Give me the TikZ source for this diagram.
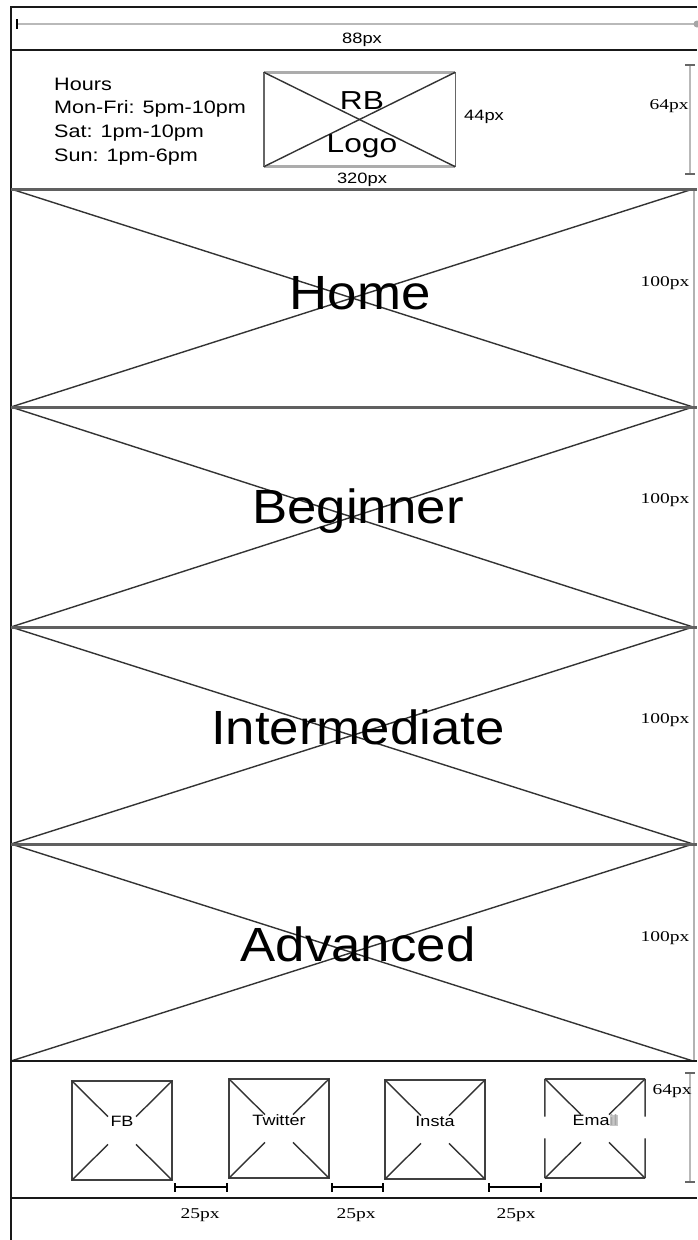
\documentclass[tikz,border=0pt]{standalone}
\usepackage{fontspec}
\setmainfont{Liberation Serif}
\newfontfamily\arialf{Liberation Sans}
\usepackage{graphicx}
\usetikzlibrary{calc}
\newcommand\sxs[2]{\scalebox{#1}[1]{#2}}
\begin{document}
\begin{tikzpicture}[x=1pt,y=-1pt,
  blk/.style={line width=1.8pt, black!90},
  sepline/.style={line width=3pt, gray!75!black},
  diag/.style={line width=1.4pt, black!80},
  dimg/.style={line width=2.6pt, gray!55},
  dimtick/.style={line width=1.2pt, gray!80!black},
  boxedge/.style={line width=1.5pt, black!75},
  sanslbl/.style={inner sep=0pt, font=\arialf\fontsize{15}{15}\selectfont},
  serlbl/.style={inner sep=0pt, font=\fontsize{15}{15}\selectfont},
  hdr/.style={inner sep=0pt, anchor=base west, font=\arialf\fontsize{18}{18}\selectfont},
  big/.style={inner sep=0pt, font=\arialf\fontsize{48}{48}\selectfont},
  logotxt/.style={inner sep=0pt, font=\arialf\fontsize{26}{26}\selectfont},
  iconbox/.style={minimum width=100, minimum height=99, inner sep=0pt}]
\useasboundingbox (0,0) rectangle (697,1240);
\fill[white] (0,0) rectangle (697,1240);

% outer frame
\coordinate (ftr) at (697,7);
\coordinate (fbl) at (11,1240);
\draw[blk] (ftr) -| (fbl);

% top dimension 88px
\coordinate (d88a) at (17,24);
\coordinate (d88b) at (697,24);
\draw[dimg] (d88a) -- (d88b);
\draw[line width=1.2pt] (17,19) -- (17,29);
\fill[gray!70] (d88b) circle (3.5);
\node[sanslbl] (l88) at (362,40) {\sxs{1.22}{88px}};

% header line
\coordinate (h1a) at (11,50); \coordinate (h1b) at (697,50);
\draw[blk] (h1a) -- (h1b);

% hours
\node[hdr] (hrs1) at (54,90) {\sxs{1.2}{Hours}};
\node[hdr] (hrs2) at (54,113) {\sxs{1.2}{Mon-Fri: 5pm-10pm}};
\node[hdr] (hrs3) at (54,137) {\sxs{1.2}{Sat: 1pm-10pm}};
\node[hdr] (hrs4) at (54,161) {\sxs{1.2}{Sun: 1pm-6pm}};

% logo box
\node[minimum width=191, minimum height=94, inner sep=0pt] (logo) at (359.5,119.5) {};
\draw[line width=1.4pt, gray!80!black] (logo.north west) -- (logo.south west) (logo.north east) -- (logo.south east);
\draw[line width=2.8pt, gray!65] (logo.north west) -- (logo.north east) (logo.south west) -- (logo.south east);
\draw[diag] (logo.north west) -- (logo.south east);
\draw[diag] (logo.south west) -- (logo.north east);
\node[logotxt] (rb) at (362,101) {\sxs{1.22}{RB}};
\node[logotxt] (lg) at (362,146) {\sxs{1.22}{Logo}};
\node[sanslbl] (l44) at (484,117) {\sxs{1.22}{44px}};
\node[sanslbl] (l320) at (362,180) {\sxs{1.22}{320px}};

% 64px header dimension
\coordinate (v1a) at (690,65); \coordinate (v1b) at (690,174);
\draw[dimg] (v1a) -- (v1b);
\draw[dimtick] (685,65) -- (695,65) (685,174) -- (695,174);
\node[serlbl] (l64a) at (669,106) {\sxs{1.3}{64px}};

% sections
\foreach \ya/\yb/\name/\lx/\ly/\dy in {189/407/Home/360/293/283, 407/627/Beginner/358/511/500, 627/844/Intermediate/358/727/720, 844/1061/Advanced/358/944/938}{
  \draw[diag] (11,\ya) -- (693,\yb);
  \draw[diag] (11,\yb) -- (693,\ya);
  \node[big] at (\lx,\ly) {\sxs{1.1}{\name}};
  \node[serlbl] at (665,\dy) {\sxs{1.3}{100px}};
}
\draw[line width=2.4pt, gray!60] (694,189) -- (694,1061);
\foreach \y in {189,407,627,844}{
  \draw[sepline] (11,\y) -- (697,\y);
}
\coordinate (s5a) at (11,1061); \coordinate (s5b) at (697,1061);
\draw[blk] (s5a) -- (s5b);

% footer icon boxes
\node[iconbox] (fb) at (122,1130.5) {};
\node[iconbox] (tw) at (279,1128.5) {};
\node[iconbox] (ins) at (435,1129.5) {};
\node[iconbox] (em) at (595,1128.5) {};
\foreach \b in {fb,tw,ins}{
  \draw[boxedge] (\b.north west) rectangle (\b.south east);
}
\draw[boxedge] (em.north west) -- (em.north east);
\draw[boxedge] (em.south west) -- (em.south east);
\draw[boxedge] (em.north west) -- ($(em.north west)!0.38!(em.south west)$);
\draw[boxedge] (em.north east) -- ($(em.north east)!0.38!(em.south east)$);
\draw[boxedge] (em.south west) -- ($(em.south west)!0.4!(em.north west)$);
\draw[boxedge] (em.south east) -- ($(em.south east)!0.4!(em.north east)$);
\foreach \b in {fb,tw,ins,em}{
  \draw[diag] (\b.north west) -- ($(\b.north west)!0.36!(\b.south east)$);
  \draw[diag] (\b.south east) -- ($(\b.south east)!0.36!(\b.north west)$);
  \draw[diag] (\b.north east) -- ($(\b.north east)!0.36!(\b.south west)$);
  \draw[diag] (\b.south west) -- ($(\b.south west)!0.36!(\b.north east)$);
}
\node[sanslbl] (tfb) at (fb.center) [yshift=9pt] {\sxs{1.2}{FB}};
\node[sanslbl] (ttw) at (tw.center) [yshift=8pt] {\sxs{1.2}{Twitter}};
\node[sanslbl] (tins) at (ins.center) [yshift=8pt] {\sxs{1.2}{Insta}};
\node[sanslbl] (tem) at (em.center) [yshift=8pt] {\sxs{1.2}{Ema{\fboxsep=0pt\colorbox{gray!45}{\textcolor{gray!70}{il}}}}};

% 25px dimensions
\coordinate (g1a) at (175,1187); \coordinate (g1b) at (227,1187);
\coordinate (g2a) at (332,1187); \coordinate (g2b) at (383,1187);
\coordinate (g3a) at (489,1187); \coordinate (g3b) at (541,1187);
\foreach \p/\q in {g1a/g1b,g2a/g2b,g3a/g3b}{
  \draw[line width=1.5pt] (\p) -- (\q);
  \draw[line width=1.2pt] ($(\p)+(0,-4)$) -- ($(\p)+(0,5)$);
  \draw[line width=1.2pt] ($(\q)+(0,-4)$) -- ($(\q)+(0,5)$);
}
\node[serlbl] (l25a) at (200,1215) {\sxs{1.3}{25px}};
\node[serlbl] (l25b) at (356,1215) {\sxs{1.3}{25px}};
\node[serlbl] (l25c) at (516,1215) {\sxs{1.3}{25px}};

% 64px footer dimension
\coordinate (v2a) at (690,1073); \coordinate (v2b) at (690,1182);
\draw[dimg] (v2a) -- (v2b);
\draw[dimtick] (685,1073) -- (695,1073) (685,1182) -- (695,1182);
\node[serlbl] (l64b) at (672,1091) {\sxs{1.3}{64px}};

% bottom line
\coordinate (b1a) at (11,1198); \coordinate (b1b) at (697,1198);
\draw[blk] (b1a) -- (b1b);
\end{tikzpicture}
\end{document}
